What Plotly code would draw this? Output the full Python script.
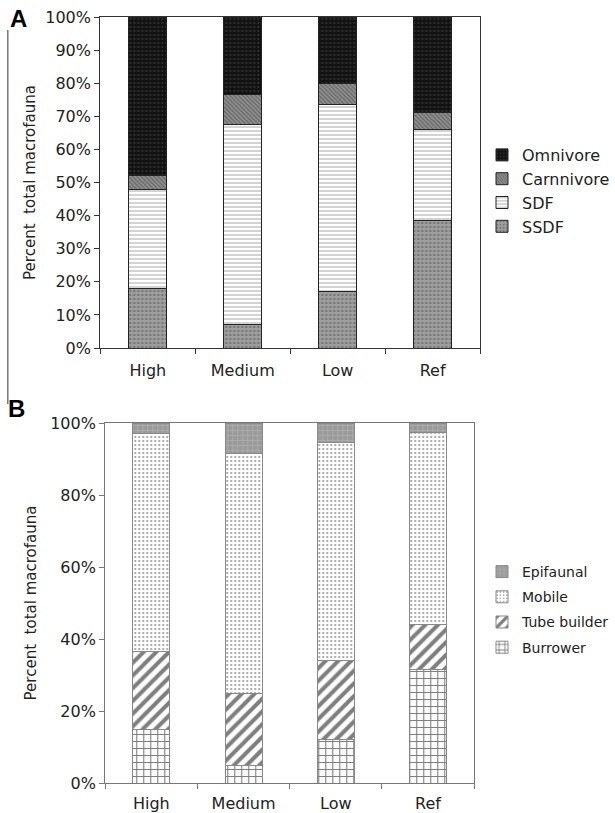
import plotly.graph_objects as go

sites = ["High", "Medium", "Low", "Ref"]

# Panel A: feeding guilds (% of total macrofauna)
ssdf = [18, 7, 17, 38.5]
sdf = [30, 60.5, 56.5, 27.5]
carnivore = [4, 9, 6.5, 5]
omnivore = [48, 23.5, 20, 29]

# Panel B: functional / mobility groups (% of total macrofauna)
burrower = [15, 5, 12, 31.5]
tube_builder = [21.5, 20, 22, 12.5]
mobile = [60.5, 66.5, 60.5, 53.5]
epifaunal = [3, 8.5, 5.5, 2.5]

FONT = "DejaVu Sans"
fig = go.Figure()

def add_bar(name, values, xa, ya, legend, pattern, line_color, rank):
    fig.add_trace(go.Bar(
        x=sites, y=values, name=name, xaxis=xa, yaxis=ya, legend=legend,
        legendgroup=name, legendrank=rank,
        marker=dict(color=pattern.get("bgcolor", "white"),
                    line=dict(color=line_color, width=1),
                    pattern=pattern),
    ))

# Panel A traces (bottom to top); legend lists the top segment first
add_bar("SSDF", ssdf, "x", "y", "legend",
        dict(shape=".", bgcolor="#a0a0a0", fgcolor="#505050", size=4, solidity=0.35), "#222222", 4)
add_bar("SDF", sdf, "x", "y", "legend",
        dict(shape="-", bgcolor="white", fgcolor="#808080", size=4, solidity=0.35), "#222222", 3)
add_bar("Carnnivore", carnivore, "x", "y", "legend",
        dict(shape="\\", bgcolor="#909090", fgcolor="#3a3a3a", size=3, solidity=0.4), "#222222", 2)
add_bar("Omnivore", omnivore, "x", "y", "legend",
        dict(shape=".", bgcolor="#111111", fgcolor="#444444", size=4, solidity=0.3), "#222222", 1)

# Panel B traces (bottom to top)
add_bar("Burrower", burrower, "x2", "y2", "legend2",
        dict(shape="+", bgcolor="white", fgcolor="#000000", size=7, solidity=0.3), "#888888", 4)
add_bar("Tube builder", tube_builder, "x2", "y2", "legend2",
        dict(shape="/", bgcolor="white", fgcolor="#000000", size=9, solidity=0.45), "#888888", 3)
add_bar("Mobile", mobile, "x2", "y2", "legend2",
        dict(shape=".", bgcolor="white", fgcolor="#333333", size=4, solidity=0.22), "#888888", 2)
add_bar("Epifaunal", epifaunal, "x2", "y2", "legend2",
        dict(shape="+", bgcolor="#9a9a9a", fgcolor="#c0c0c0", size=5, solidity=0.3), "#888888", 1)

W, H = 615, 813
def px_x(v):
    return v / W
def px_y(v):
    return 1 - v / H

tickfont = dict(family=FONT, size=16, color="#222222")
axis_common = dict(showline=True, mirror=True, linewidth=1.3, ticks="outside",
                   ticklen=5, tickfont=tickfont, showgrid=False, zeroline=False,
                   automargin=False)

fig.update_layout(
    width=W, height=H,
    margin=dict(l=0, r=0, t=0, b=0),
    paper_bgcolor="white", plot_bgcolor="white",
    barmode="stack", bargap=0.6,
    font=dict(family=FONT, color="#222222"),
    xaxis=dict(domain=[px_x(102), px_x(488)], anchor="y", tickson="boundaries",
               linecolor="#333333", tickcolor="#333333", ticklabelstandoff=8, **axis_common),
    yaxis=dict(domain=[px_y(348), px_y(17)], anchor="x", range=[0, 100], dtick=10,
               ticksuffix="%", linecolor="#333333", tickcolor="#333333",
               title=dict(text="Percent  total macrofauna", font=dict(family=FONT, size=15),
                          standoff=5),
               **axis_common),
    xaxis2=dict(domain=[px_x(107), px_x(482)], anchor="y2", tickson="boundaries",
                linecolor="#777777", tickcolor="#777777", ticklabelstandoff=6, **axis_common),
    yaxis2=dict(domain=[px_y(783), px_y(423)], anchor="x2", range=[0, 100], dtick=20,
                ticksuffix="%", linecolor="#777777", tickcolor="#777777",
                title=dict(text="Percent  total macrofauna", font=dict(family=FONT, size=15),
                           standoff=9),
                **axis_common),
    legend=dict(x=px_x(490), y=px_y(138), xanchor="left", yanchor="top",
                traceorder="normal", itemwidth=30,
                font=dict(family=FONT, size=16, color="#222222"), bgcolor="rgba(0,0,0,0)"),
    legend2=dict(x=px_x(490), y=px_y(556), xanchor="left", yanchor="top",
                 traceorder="grouped", tracegroupgap=4, itemwidth=30,
                 font=dict(family=FONT, size=14, color="#222222"), bgcolor="rgba(0,0,0,0)"),
    showlegend=True,
)

# Panel letters and the frame line on the left of panel A
fig.add_annotation(x=px_x(8), y=px_y(18), xref="paper", yref="paper", text="<b>A</b>",
                   showarrow=False, xanchor="left", yanchor="middle",
                   font=dict(family="Liberation Sans", size=24, color="black"))
fig.add_annotation(x=px_x(6), y=px_y(408), xref="paper", yref="paper", text="<b>B</b>",
                   showarrow=False, xanchor="left", yanchor="middle",
                   font=dict(family="Liberation Sans", size=24, color="black"))
fig.add_shape(type="line", xref="paper", yref="paper", x0=px_x(8), x1=px_x(8),
              y0=px_y(30), y1=px_y(404), line=dict(color="#333333", width=1))

fig.write_html("out.html")
